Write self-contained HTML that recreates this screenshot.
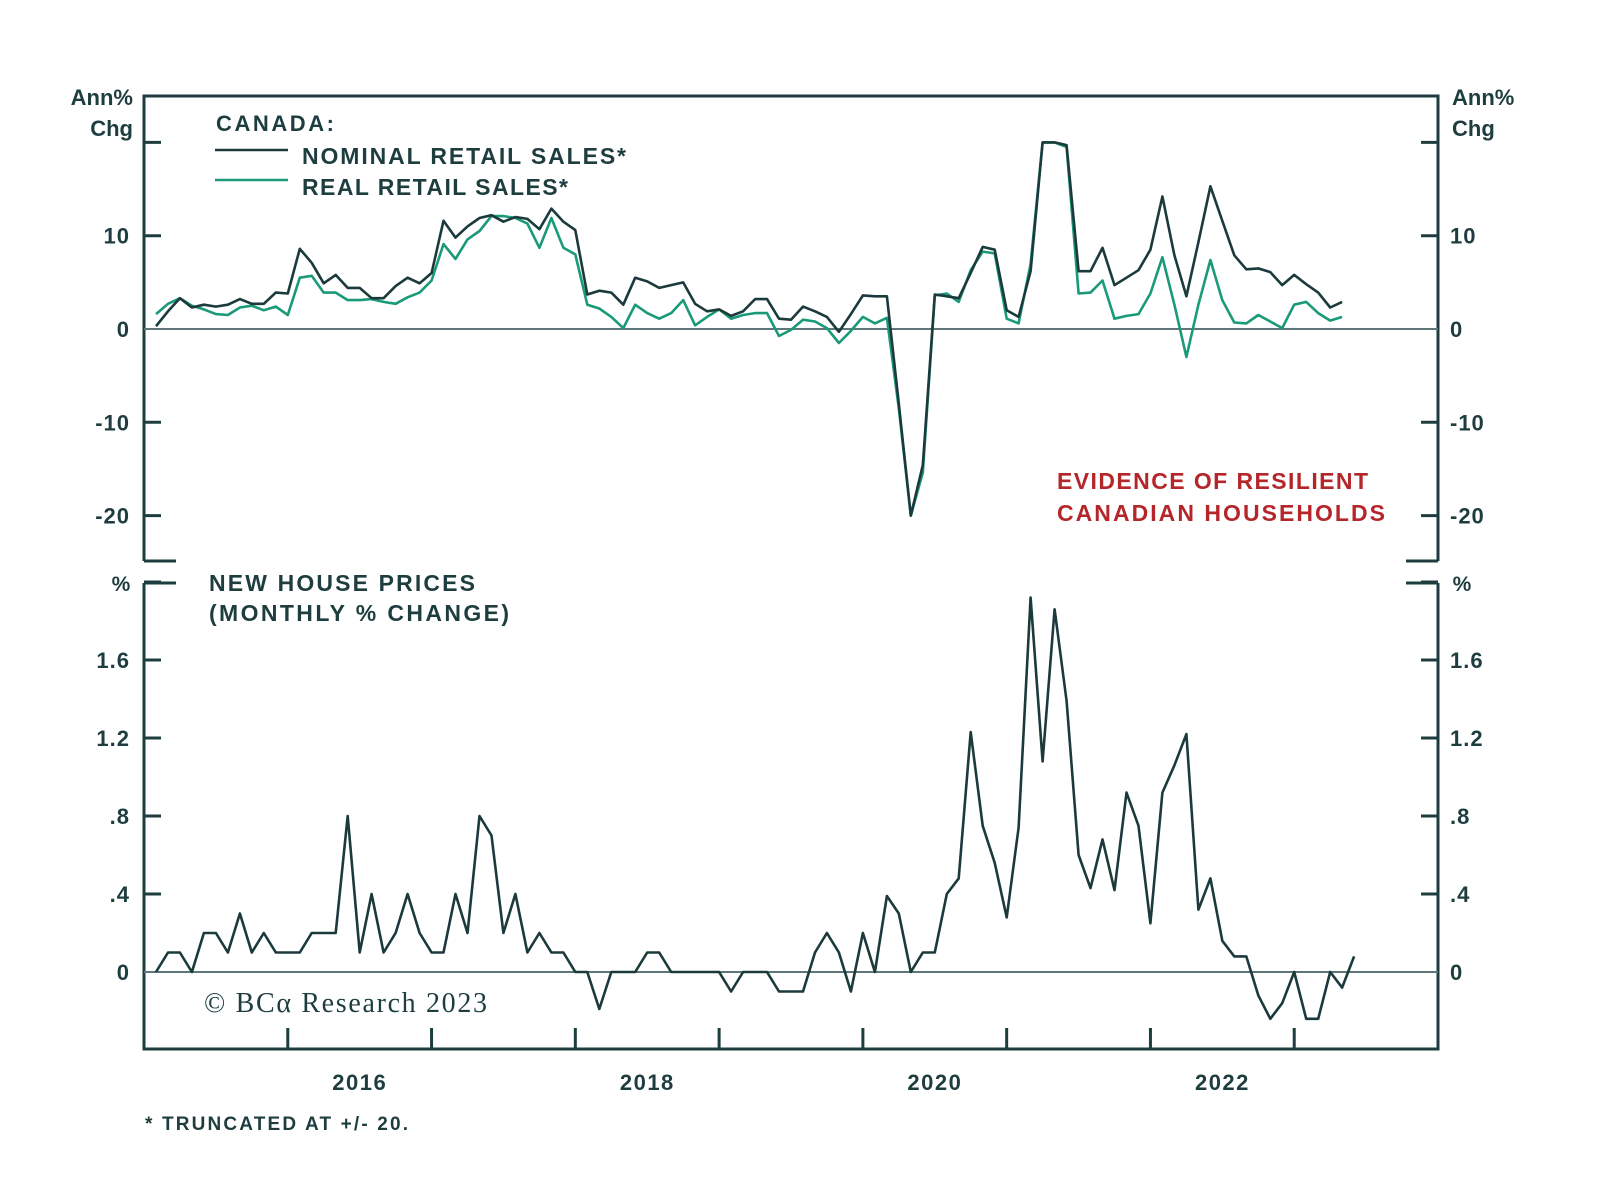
<!DOCTYPE html>
<html><head><meta charset="utf-8"><style>
html,body{margin:0;padding:0;background:#fff;}
svg{display:block;}
text{font-family:"Liberation Sans",sans-serif;font-weight:bold;fill:#1e3d3f;}
</style></head><body>
<svg id="chart" width="1600" height="1193" viewBox="0 0 1600 1193">
<g id="frame" stroke="#1e3d3f" stroke-width="3" fill="none">
<path d="M144,561 V96 H1438 V561"/>
<path d="M144,561 H176 M1406,561 H1438"/>
<path d="M144,583 H176 M1406,583 H1438"/>
<path d="M144,583 V1049 H1438 V583"/>
</g>
<g id="ticks" stroke="#1e3d3f" stroke-width="3"></g>
<line x1="144" x2="1438" y1="329" y2="329" stroke="#5f7678" stroke-width="2"/>
<line x1="144" x2="1438" y1="972" y2="972" stroke="#5f7678" stroke-width="2"/>
<g id="labels" font-size="22"></g>
<text x="133" y="105" text-anchor="end" font-size="22">Ann%</text>
<text x="133" y="136" text-anchor="end" font-size="22">Chg</text>
<text x="1452" y="105" font-size="22">Ann%</text>
<text x="1452" y="136" font-size="22">Chg</text>
<text x="121" y="591" text-anchor="middle" font-size="21">%</text>
<text x="1462" y="591" text-anchor="middle" font-size="21">%</text>
<text x="216" y="131" font-size="22" textLength="118" lengthAdjust="spacing">CANADA:</text>
<line x1="215" x2="288" y1="150" y2="150" stroke="#1b3a3c" stroke-width="2.5"/>
<line x1="215" x2="288" y1="180" y2="180" stroke="#1a9a78" stroke-width="2.5"/>
<text x="302" y="164" font-size="23" textLength="324" lengthAdjust="spacing">NOMINAL RETAIL SALES*</text>
<text x="302" y="195" font-size="23" textLength="266" lengthAdjust="spacing">REAL RETAIL SALES*</text>
<text x="1057" y="489" font-size="23" textLength="311" lengthAdjust="spacing" style="fill:#b5262b">EVIDENCE OF RESILIENT</text>
<text x="1057" y="521" font-size="23" textLength="328" lengthAdjust="spacing" style="fill:#b5262b">CANADIAN HOUSEHOLDS</text>
<text x="209" y="591" font-size="23" textLength="266" lengthAdjust="spacing">NEW HOUSE PRICES</text>
<text x="209" y="621" font-size="23" textLength="300" lengthAdjust="spacing">(MONTHLY % CHANGE)</text>
<text x="204" y="1012" font-size="28" textLength="283" lengthAdjust="spacing" style="font-family:'Liberation Serif',serif;font-weight:normal">© BCα Research 2023</text>
<text x="145" y="1130" font-size="19" textLength="263" lengthAdjust="spacing">* TRUNCATED AT +/- 20.</text>
<g id="series"></g>
</svg>
<script>
const topTicks = [20, 10, -10, -20];
const topTickLabels = ["10", "0", "-10", "-20"];
const topLabelVals = [10, 0, -10, -20];
const botTickVals = [2.0, 1.6, 1.2, 0.8, 0.4];
const botLabelVals = [1.6, 1.2, 0.8, 0.4, 0];
const botTickLabels = ["1.6", "1.2", ".8", ".4", "0"];
const yearLabels = ["2016", "2018", "2020", "2022"];
const yearLabelVals = [2016, 2018, 2020, 2022];
const yearTicks = [2016, 2017, 2018, 2019, 2020, 2021, 2022, 2023];
// monthly series starting Feb 2015 (month index 1)
const nominalSales = [0.3,1.9,3.3,2.3,2.6,2.4,2.6,3.2,2.7,2.7,3.9,3.8,8.6,7.1,4.9,5.8,4.4,4.4,3.3,3.3,4.6,5.5,4.9,6.0,11.6,9.8,11.0,11.9,12.2,11.5,12.0,11.8,10.7,12.9,11.5,10.6,3.7,4.1,3.9,2.6,5.5,5.1,4.4,4.7,5.0,2.7,1.9,2.1,1.4,1.9,3.2,3.2,1.1,1.0,2.4,1.9,1.3,-0.3,1.6,3.6,3.5,3.5,-8,-20,-14.6,3.7,3.5,3.3,6.0,8.8,8.5,2.0,1.3,6.2,20,20,19.7,6.2,6.2,8.7,4.7,5.5,6.3,8.5,14.2,7.9,3.5,9.3,15.3,11.6,7.9,6.4,6.5,6.1,4.7,5.8,4.8,3.9,2.3,2.9];
const realSales = [1.6,2.7,3.3,2.5,2.1,1.6,1.5,2.3,2.5,2.0,2.4,1.5,5.5,5.7,3.9,3.9,3.1,3.1,3.2,2.9,2.7,3.4,3.9,5.2,9.1,7.5,9.6,10.5,12.1,12.1,11.9,11.3,8.7,11.9,8.7,8.0,2.6,2.2,1.3,0.1,2.6,1.7,1.1,1.7,3.1,0.4,1.3,2.1,1.1,1.5,1.7,1.7,-0.75,-0.1,1.0,0.8,0.1,-1.5,-0.2,1.3,0.6,1.2,-8.5,-20,-15.4,3.6,3.8,2.9,6.3,8.3,8.1,1.1,0.6,7.0,20,20,19.5,3.8,3.9,5.2,1.1,1.4,1.6,3.8,7.7,2.6,-3.0,2.6,7.4,3.1,0.7,0.6,1.5,0.8,0.1,2.6,2.9,1.7,0.9,1.3];
const housePrices = [0,0.1,0.1,0,0.2,0.2,0.1,0.3,0.1,0.2,0.1,0.1,0.1,0.2,0.2,0.2,0.8,0.1,0.4,0.1,0.2,0.4,0.2,0.1,0.1,0.4,0.2,0.8,0.7,0.2,0.4,0.1,0.2,0.1,0.1,0,0,-0.19,0,0,0,0.1,0.1,0,0,0,0,0,-0.1,0,0,0,-0.1,-0.1,-0.1,0.1,0.2,0.1,-0.1,0.2,0,0.39,0.3,0,0.1,0.1,0.4,0.48,1.23,0.75,0.56,0.28,0.74,1.92,1.08,1.86,1.39,0.6,0.43,0.68,0.42,0.92,0.75,0.25,0.92,1.06,1.22,0.32,0.48,0.16,0.08,0.08,-0.12,-0.24,-0.16,0,-0.24,-0.24,0,-0.08,0.08];

const NS = "http://www.w3.org/2000/svg";
const xMonth = m => 144 + m * (1294 / 108);
const xYear = y => xMonth((y - 2015) * 12);
const yTop = v => 329 - v * 9.33;
const yBot = v => 972 - v * 195;

function mk(tag, attrs, parent) {
  const el = document.createElementNS(NS, tag);
  for (const k in attrs) el.setAttribute(k, attrs[k]);
  parent.appendChild(el);
  return el;
}
const ticksG = document.getElementById('ticks');
const labelsG = document.getElementById('labels');
const seriesG = document.getElementById('series');

topTicks.forEach(v => {
  const y = yTop(v);
  let a = mk('line', {x1:144, x2:161, y1:y, y2:y}, ticksG);
  
  
  let b = mk('line', {x1:1421, x2:1438, y1:y, y2:y}, ticksG);
  
  
});
botTickVals.forEach(v => {
  const y = yBot(v);
  let a = mk('line', {x1:144, x2:161, y1:y, y2:y}, ticksG);
  
  
  let b = mk('line', {x1:1421, x2:1438, y1:y, y2:y}, ticksG);
  
  
});
yearTicks.forEach(yr => {
  const x = xYear(yr);
  let t = mk('line', {x1:x, x2:x, y1:1028, y2:1049}, ticksG);
  
  
});
topLabelVals.forEach((v, i) => {
  const y = yTop(v) + 8;
  let a = mk('text', {x:130, y:y, 'text-anchor':'end', 'letter-spacing':1}, labelsG);
  a.textContent = topTickLabels[i];
  
  
  let b = mk('text', {x:1450, y:y, 'letter-spacing':1}, labelsG);
  b.textContent = topTickLabels[i];
  
  
});
botLabelVals.forEach((v, i) => {
  const y = yBot(v) + 8;
  let a = mk('text', {x:130, y:y, 'text-anchor':'end', 'letter-spacing':1}, labelsG);
  a.textContent = botTickLabels[i];
  
  
  let b = mk('text', {x:1450, y:y, 'letter-spacing':1}, labelsG);
  b.textContent = botTickLabels[i];
  
  
});
yearLabelVals.forEach((yr, i) => {
  let t = mk('text', {x:xYear(yr) + 72, y:1090, 'text-anchor':'middle', 'letter-spacing':1.5}, labelsG);
  t.textContent = yearLabels[i];
  
  
});

function linePath(vals, start, yf) {
  return vals.map((v, i) => (i ? 'L' : 'M') + xMonth(start + i).toFixed(1) + ',' + yf(v).toFixed(1)).join(' ');
}
let pn = mk('path', {d: linePath(nominalSales, 1, yTop), fill:'none', stroke:'#1b3a3c', 'stroke-width':2.6, 'stroke-linejoin':'round'}, seriesG);


let pr = mk('path', {d: linePath(realSales, 1, yTop), fill:'none', stroke:'#1a9a78', 'stroke-width':2.6, 'stroke-linejoin':'round'}, seriesG);


seriesG.appendChild(pn);
let ph = mk('path', {d: linePath(housePrices, 1, yBot), fill:'none', stroke:'#1b3a3c', 'stroke-width':2.6, 'stroke-linejoin':'round'}, seriesG);


</script>
</body></html>
